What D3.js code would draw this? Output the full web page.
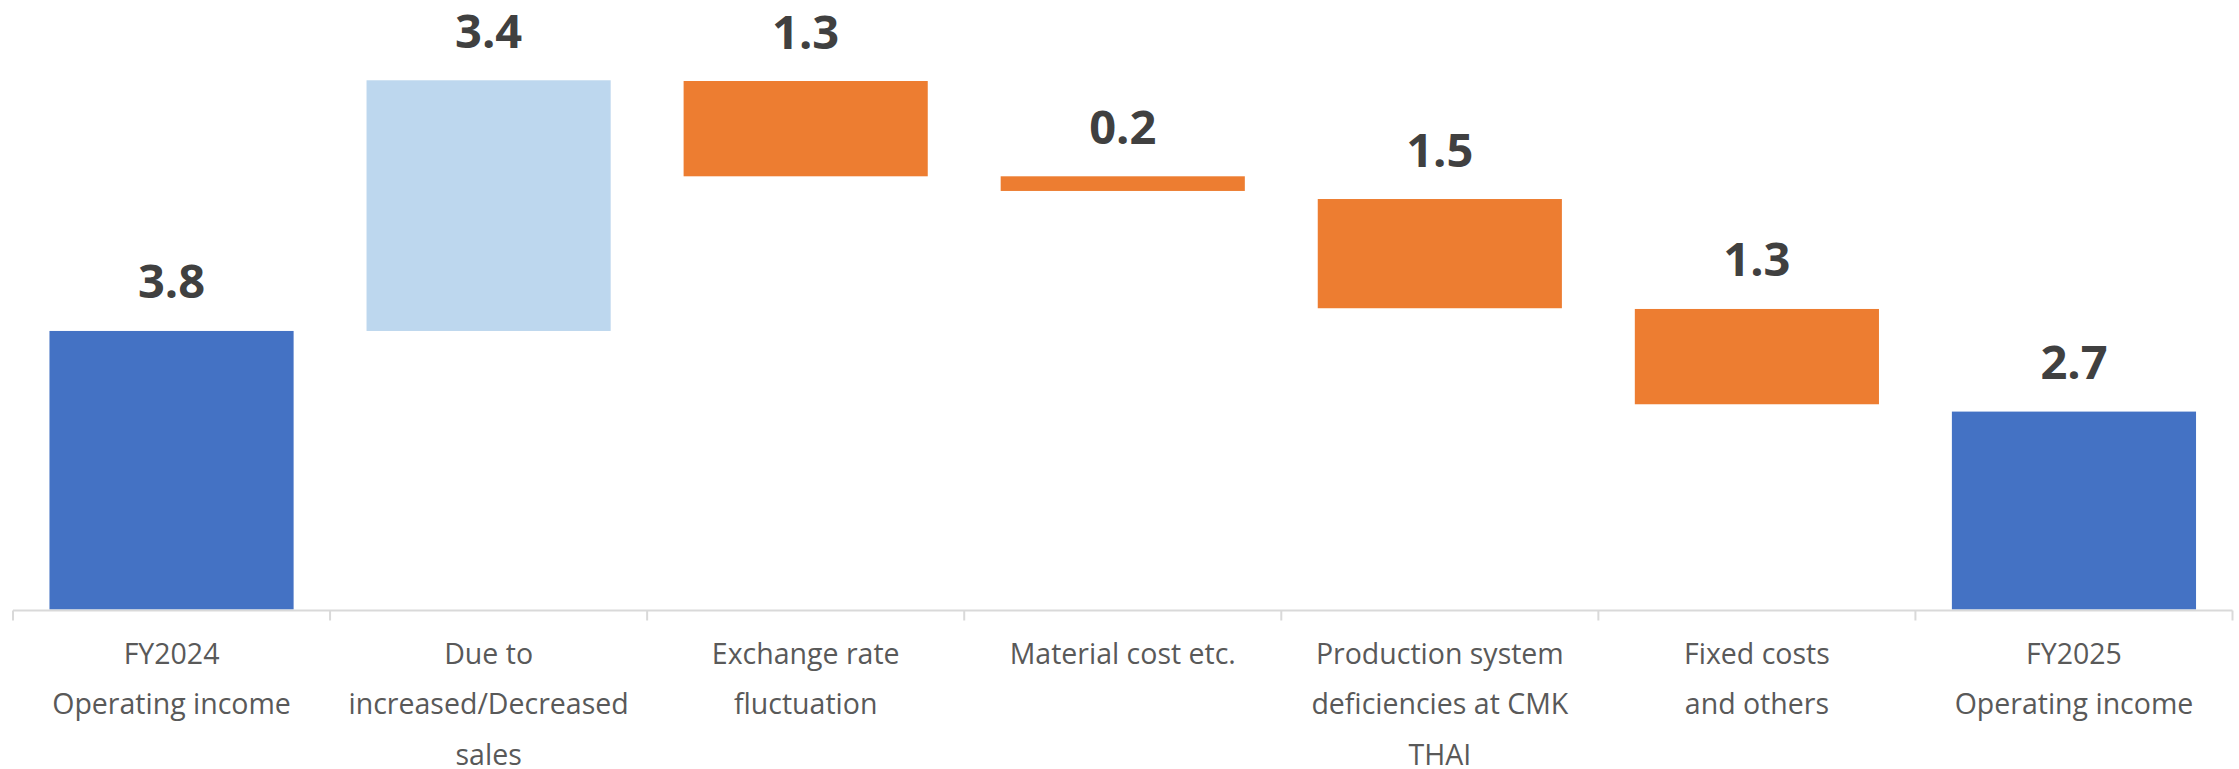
<!DOCTYPE html>
<meta charset="utf-8">
<style>

  body {
    margin: 0;
    background: #fff;
  }

  .value {
    font: bold 47px "Open Sans", sans-serif;
    fill: #404040;
    text-anchor: middle;
  }

  .axis text {
    font: 28.5px "Open Sans", sans-serif;
    fill: #595959;
  }

</style>
<body>
<script src="https://d3js.org/d3.v7.min.js"></script>

<script>

var width = 2239,
    height = 769;

// category labels, one entry per line
var categories = [
  ["FY2024", "Operating income"],
  ["Due to", "increased/Decreased", "sales"],
  ["Exchange rate", "fluctuation"],
  ["Material cost etc."],
  ["Production system", "deficiencies at CMK", "THAI"],
  ["Fixed costs", "and others"],
  ["FY2025", "Operating income"]
];

// printed values
var labels = ["3.8", "3.4", "1.3", "0.2", "1.5", "1.3", "2.7"];

// where each floating bar starts and ends
var barStart = [0, 3.80, 7.21, 5.91, 5.60, 4.10, 0];
var barEnd   = [3.80, 7.22, 5.91, 5.71, 4.11, 2.80, 2.70];

var kinds = ["total", "increase", "decrease", "decrease", "decrease", "decrease", "total"];

var colors = {
  total: "#4472c4",
  increase: "#bdd7ee",
  decrease: "#ed7d31"
};

var svg = d3.select("body").append("svg")
  .attr("width", width)
  .attr("height", height);

var x = d3.scaleBand()
  .domain(d3.range(categories.length))
  .range([13, 2232.5])
  .paddingInner(0.23)
  .paddingOuter(0.115);

var y = d3.scaleLinear()
  .domain([0, 8])
  .range([609.5, 23.1]);

var bars = svg.selectAll("rect")
  .data(d3.range(categories.length))
  .enter()
  .append("rect")
    .attr("x", function(i){ return x(i); })
    .attr("width", x.bandwidth())
    .attr("y", function(i){ return y(Math.max(barStart[i], barEnd[i])); })
    .attr("height", function(i){ return Math.abs(y(barStart[i]) - y(barEnd[i])); })
    .style("fill", function(i){ return colors[kinds[i]]; });

svg.selectAll(".value")
  .data(d3.range(categories.length))
  .enter()
  .append("text")
    .attr("class", "value")
    .attr("x", function(i){ return x(i) + x.bandwidth() / 2; })
    .attr("y", function(i){ return y(Math.max(barStart[i], barEnd[i])) - 32.5; })
    .text(function(i){ return labels[i]; });

// x axis: labels from d3.axisBottom, then the Excel style boundary ticks
var axis = svg.append("g")
  .attr("class", "axis")
  .attr("transform", "translate(0," + 610.5 + ")")
  .call(d3.axisBottom(x).tickSize(0).tickFormat(function(){ return ""; }));

axis.select(".domain").remove();

axis.selectAll(".tick text")
  .attr("y", null)
  .attr("dy", null)
  .each(function(i){
    var t = d3.select(this);
    categories[i].forEach(function(line, j){
      t.append("tspan")
        .attr("x", 0)
        .attr("y", 53 + j * 50.5)
        .text(line);
    });
  });

var edges = d3.range(categories.length + 1).map(function(i){
  return x.range()[0] + i * x.step();
});

axis.append("line")
  .attr("x1", edges[0])
  .attr("x2", edges[edges.length - 1])
  .attr("stroke", "#d9d9d9")
  .attr("stroke-width", 2);

axis.selectAll(".edge")
  .data(edges)
  .enter()
  .append("line")
    .attr("class", "edge")
    .attr("x1", function(d){ return d; })
    .attr("x2", function(d){ return d; })
    .attr("y1", 0)
    .attr("y2", 10)
    .attr("stroke", "#d9d9d9")
    .attr("stroke-width", 2);

</script>
